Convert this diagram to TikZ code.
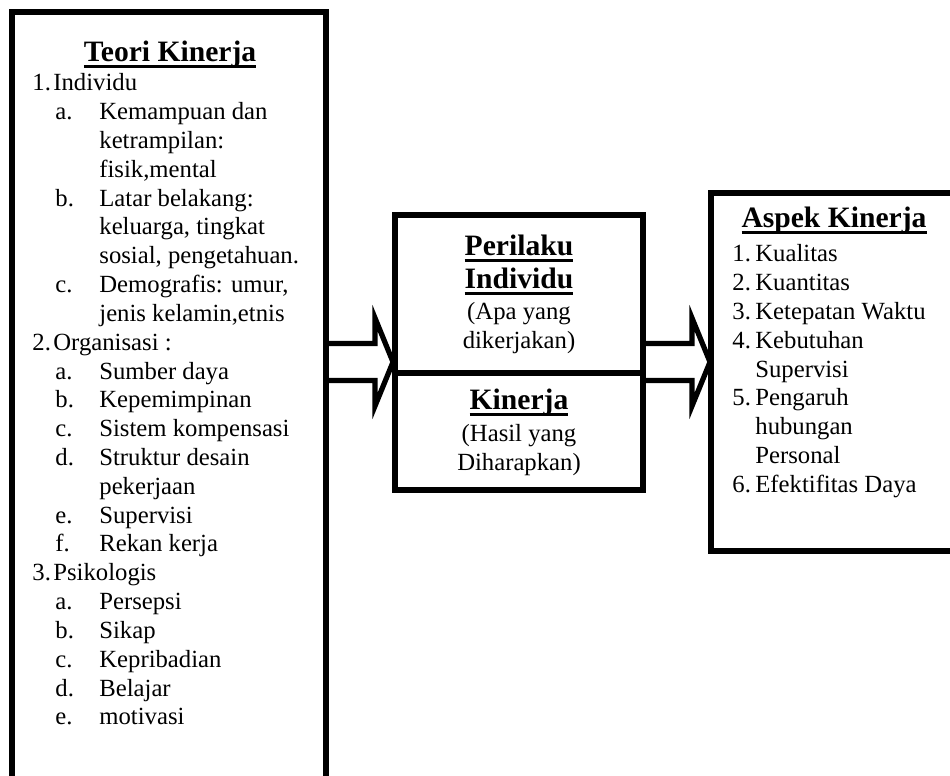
\documentclass[tikz,border=0pt]{standalone}
\usepackage{fontspec}
\setmainfont{Liberation Serif}
\usepackage{tikz}
\usetikzlibrary{positioning}

\newsavebox\ubox
\newcommand\uword[1]{\sbox\ubox{#1}\rlap{\rule[-3.3pt]{\wd\ubox}{1.5pt}}\usebox\ubox}

\tikzset{
  box/.style={draw,line width=3pt,rectangle,inner sep=0pt,outer sep=0pt,anchor=north west},
  bodytext/.style={inner sep=0pt,font=\fontsize{12.35pt}{14.4pt}\selectfont},
  headtext/.style={inner sep=0pt,anchor=base,font=\fontsize{14.8pt}{16.5pt}\selectfont\bfseries},
  pics/fatarrow/.style={code={
    \draw[line width=2.6pt,line join=miter]
      (0,-18.5) -- (49,-18.5) -- (49,-44) -- (67,0) -- (49,44) -- (49,18.5) -- (0,18.5);
  }}
}

\begin{document}
\begin{tikzpicture}[x=0.5pt,y=-0.5pt]
\useasboundingbox (0,0) rectangle (950,776);
\clip (0,0) rectangle (950,776);

% boxes
\node[box,minimum width=157.25pt,minimum height=400pt] (teori) at (11.5,11.5) {};
\node[box,minimum width=124pt,minimum height=78.75pt] (perilaku) at (395,215) {};
\node[box,minimum width=124pt,minimum height=58.75pt] (kinerja) at (perilaku.south west) {};
\node[box,minimum width=123.75pt,minimum height=179.25pt] (aspek) at (710.5,192.5) {};

% arrows
\coordinate (axis) at (0,362);
\pic (arrowin) at (teori.east |- axis) {fatarrow};
\pic (arrowout) at (perilaku.east |- axis) {fatarrow};

% left box
\node[headtext] (teori-title) at (170,61.7) {\uword{Teori Kinerja}};
\foreach \x/\w/\lab/\txt [count=\i] in {
  32/10.5/1./Individu,
  55/22/a./Kemampuan dan,
  99/0//ketrampilan:,
  99/0//{fisik,mental},
  55/22/b./Latar belakang:,
  99/0//{keluarga, tingkat},
  99/0//{sosial, pengetahuan.},
  55/22/c./{Demografis: umur,},
  99/0//{jenis kelamin,etnis},
  32/10.5/2./Organisasi :,
  55/22/a./Sumber daya,
  55/22/b./Kepemimpinan,
  55/22/c./Sistem kompensasi,
  55/22/d./Struktur desain,
  99/0//pekerjaan,
  55/22/e./Supervisi,
  55/22/f./Rekan kerja,
  32/10.5/3./Psikologis,
  55/22/a./Persepsi,
  55/22/b./Sikap,
  55/22/c./Kepribadian,
  55/22/d./Belajar,
  55/22/e./motivasi}
  \node[bodytext,anchor=base west] (teori-\i) at (\x,90.7+28.83*\i-28.83) {\makebox[\w pt][l]{\lab}\txt};

% middle boxes
\node[headtext] (perilaku-1) at (519,255) {\uword{Perilaku}};
\node[headtext] (perilaku-2) at (519,288) {\uword{Individu}};
\node[bodytext,anchor=base] (perilaku-3) at (519,319) {(Apa yang};
\node[bodytext,anchor=base] (perilaku-4) at (519,348) {dikerjakan)};
\node[headtext] (kinerja-1) at (519,409) {\uword{Kinerja}};
\node[bodytext,anchor=base] (kinerja-2) at (519,441) {(Hasil yang};
\node[bodytext,anchor=base] (kinerja-3) at (519,470) {Diharapkan)};

% right box
\node[headtext] (aspek-title) at (834,227.3) {\uword{Aspek Kinerja}};
\foreach \lab/\txt [count=\i] in {
  1./Kualitas,
  2./Kuantitas,
  3./Ketepatan Waktu,
  4./Kebutuhan,
  /Supervisi,
  5./Pengaruh,
  /hubungan,
  /Personal,
  6./Efektifitas Daya}
  \node[bodytext,anchor=base west] (aspek-\i) at (732,261.7+28.83*\i-28.83) {\makebox[11.5pt][l]{\lab}\txt};
\end{tikzpicture}
\end{document}
